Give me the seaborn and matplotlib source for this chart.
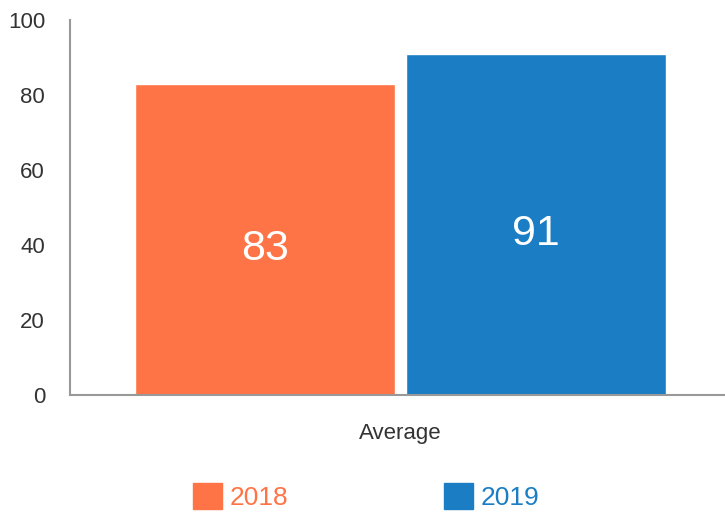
import matplotlib
matplotlib.use("Agg")
import matplotlib.pyplot as plt
import matplotlib.patches as mpatches
import seaborn as sns
import pandas as pd

categories = ["Average", "Average"]
years = ["2018", "2019"]
values = [83, 91]
colors = ["#FF7446", "#1B7EC4"]

df = pd.DataFrame({"category": categories, "year": years, "value": values})

sns.set_style("white")
plt.rcParams["font.family"] = ["Liberation Sans", "DejaVu Sans"]

fig = plt.figure(figsize=(7.25, 5.14), dpi=100)
ax = fig.add_axes([0.0966, 0.2315, 0.9034, 0.7295])

sns.barplot(data=df, x="category", y="value", hue="year", palette=colors,
            width=0.8275, gap=0.04, saturation=1, ax=ax, legend=False)

ax.set_xlim(-0.5046, 0.4954)
ax.set_ylim(0, 100)
ax.set_yticks([0, 20, 40, 60, 80, 100])
ax.set_xlabel("")
ax.set_ylabel("")
ax.tick_params(axis="y", length=0, pad=18, labelsize=16, labelcolor="#333333")
ax.tick_params(axis="x", length=0, pad=20, labelsize=16, labelcolor="#333333")
sns.despine(ax=ax)
for side in ["left", "bottom"]:
    ax.spines[side].set_color("#999999")
    ax.spines[side].set_linewidth(1.5)

# value labels inside bars
for p in ax.patches:
    h = p.get_height()
    ax.annotate(f"{h:.0f}", (p.get_x() + p.get_width() / 2, h / 2),
                xytext=(0, -7), textcoords="offset points",
                ha="center", va="center", color="white", fontsize=31)

handles = [mpatches.Patch(facecolor=c, edgecolor=c, label=y) for y, c in zip(years, colors)]
leg = fig.legend(handles=handles, loc="center", bbox_to_anchor=(0.505, 0.034),
                 ncol=2, frameon=False, fontsize=19, handlelength=1.1,
                 handleheight=1.1, handletextpad=0.3, columnspacing=5.9)
for t, c in zip(leg.get_texts(), colors):
    t.set_color(c)

fig.savefig("out.png", dpi=100)
